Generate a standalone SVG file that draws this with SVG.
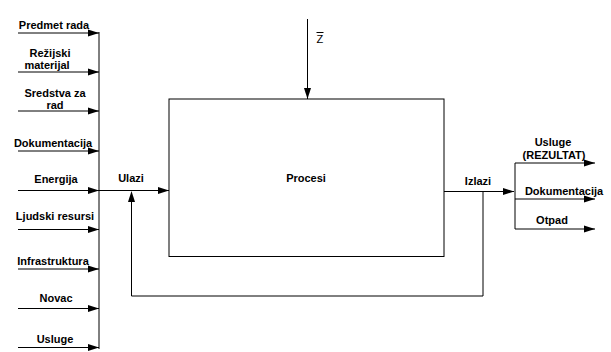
<svg xmlns="http://www.w3.org/2000/svg" width="611" height="352" viewBox="0 0 611 352">
<style>
.t{font-family:"Liberation Sans",Arial,sans-serif;font-size:11px;font-weight:bold;fill:#000;text-anchor:middle}
.ln{stroke:#000;stroke-width:1;fill:none}
.ar{stroke:#000;stroke-width:1;fill:none;marker-end:url(#ah)}
</style>
<defs>
<marker id="ah" markerUnits="userSpaceOnUse" markerWidth="12" markerHeight="8" refX="11" refY="4" orient="auto">
<path d="M0,0.5 L11,4 L0,7.5 Z" fill="#000"/>
</marker>
</defs>
<rect width="611" height="352" fill="#fff"/>
<g id="connectors">
<line class="ln" x1="99" y1="32" x2="99" y2="349"/>
<line class="ar" x1="18" y1="33" x2="99" y2="33"/>
<line class="ar" x1="18" y1="72" x2="99" y2="72"/>
<line class="ar" x1="18" y1="111" x2="99" y2="111"/>
<line class="ar" x1="18" y1="151" x2="99" y2="151"/>
<line class="ar" x1="18" y1="190.5" x2="99" y2="190.5"/>
<line class="ar" x1="18" y1="229.5" x2="99" y2="229.5"/>
<line class="ar" x1="18" y1="269" x2="99" y2="269"/>
<line class="ar" x1="18" y1="308.5" x2="99" y2="308.5"/>
<line class="ar" x1="18" y1="347.5" x2="99" y2="347.5"/>
<line class="ar" x1="99" y1="190.5" x2="169" y2="190.5"/>
<line class="ar" x1="307.5" y1="19" x2="307.5" y2="99"/>
<line class="ar" x1="444" y1="191.5" x2="514" y2="191.5"/>
<polyline class="ln" points="483,191.5 483,296 131.5,296 131.5,202"/>
<path d="M131.5,191 L128,202 L135,202 Z" fill="#000"/>
<line class="ln" x1="515" y1="163" x2="515" y2="229"/>
<line class="ar" x1="515" y1="163" x2="595" y2="163"/>
<line class="ar" x1="515" y1="199" x2="595" y2="199"/>
<line class="ar" x1="515" y1="229" x2="595" y2="229"/>
</g>
<g id="procesi">
<rect class="ln" x="169" y="99" width="275" height="157.5"/>
<text class="t" x="306" y="182">Procesi</text>
</g>
<g id="z">
<text x="316.5" y="43" style="font-family:'Liberation Sans',Arial,sans-serif;font-size:11px;fill:#000">Z</text>
<line class="ln" x1="316.5" y1="32.5" x2="323.5" y2="32.5"/>
</g>
<g id="inputs">
<text class="t" x="54" y="29">Predmet rada</text>
<text class="t" x="50" y="57">Režijski</text>
<text class="t" x="47" y="69">materijal</text>
<text class="t" x="55" y="97">Sredstva za</text>
<text class="t" x="55" y="109">rad</text>
<text class="t" x="53" y="147">Dokumentacija</text>
<text class="t" x="56" y="183">Energija</text>
<text class="t" x="55" y="220">Ljudski resursi</text>
<text class="t" x="53" y="265">Infrastruktura</text>
<text class="t" x="56" y="302">Novac</text>
<text class="t" x="55" y="343">Usluge</text>
</g>
<g id="ulazi"><text class="t" x="131" y="182">Ulazi</text></g>
<g id="izlazi"><text class="t" x="478" y="185">Izlazi</text></g>
<g id="outputs">
<text class="t" x="553" y="146">Usluge</text>
<text class="t" x="554" y="159">(REZULTAT)</text>
<text class="t" x="564" y="195">Dokumentacija</text>
<text class="t" x="552" y="224">Otpad</text>
</g>
</svg>
